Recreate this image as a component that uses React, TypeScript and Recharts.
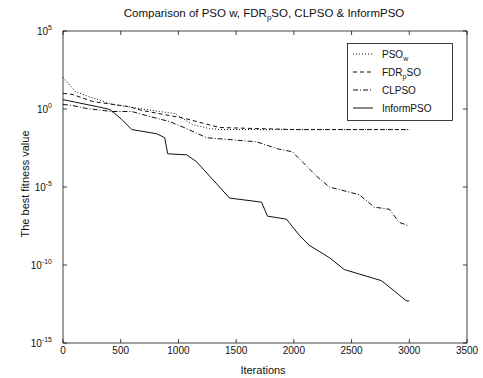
import { LineChart, Line, XAxis, YAxis, ReferenceLine } from "recharts";

// Iterations / best fitness
const psoIter = [0, 60, 104, 216, 432, 838, 968, 1123, 1270, 1383, 3000];
const psoVal = [107, 33, 13.5, 6.5, 1.95, 0.69, 0.51, 0.1, 0.055, 0.048, 0.048];

const fdrIter = [0, 78, 259, 562, 691, 1054, 1357, 1702, 2022, 3000];
const fdrVal = [10, 8.7, 3.0, 1.45, 0.79, 0.25, 0.065, 0.055, 0.048, 0.048];

const clIter = [0, 78, 207, 423, 596, 752, 925, 1072, 1244, 1340, 1677, 1858, 1988, 2195, 2307, 2567, 2696, 2826, 2912, 2981, 3000];
const clVal = [1.95, 1.7, 1.07, 0.69, 0.69, 0.33, 0.155, 0.055, 0.0145, 0.0126, 0.0079, 0.0028, 0.0018, 5.1e-5, 1e-5, 3.2e-6, 5.1e-7, 3.8e-7, 5.5e-8, 3.5e-8, 3.5e-8];

const informIter = [0, 100, 300, 406, 449, 510, 596, 812, 881, 907, 1072, 1158, 1443, 1720, 1772, 1936, 2048, 2135, 2307, 2437, 2757, 2869, 2973, 3000];
const informVal = [4.0, 2.8, 1.4, 0.93, 0.51, 0.21, 0.048, 0.026, 0.0145, 1.35e-3, 1.15e-3, 4.1e-4, 1.95e-6, 1.07e-6, 1.35e-7, 8.7e-8, 7.9e-9, 1.8e-9, 3.0e-10, 5.1e-11, 1e-11, 2.2e-12, 5.1e-13, 5e-13];

const xTicks = [0, 500, 1000, 1500, 2000, 2500, 3000, 3500];
const yTicks = [1e5, 1e0, 1e-5, 1e-10, 1e-15];
const yExps = ["5", "0", "-5", "-10", "-15"];

const toRows = (it: number[], v: number[]) => it.map((x, i) => ({ it: x, v: v[i] }));

const SERIES = [
  { key: "pso", label: "PSO", sub: "w", rest: "", dash: "1 2", rows: toRows(psoIter, psoVal) },
  { key: "fdr", label: "FDR", sub: "p", rest: "SO", dash: "4 3", rows: toRows(fdrIter, fdrVal) },
  { key: "cl", label: "CLPSO", sub: "", rest: "", dash: "5 2 1 2", rows: toRows(clIter, clVal) },
  { key: "inform", label: "InformPSO", sub: "", rest: "", dash: undefined, rows: toRows(informIter, informVal) },
];

const FONT = "'Liberation Sans', Arial, sans-serif";
const INK = "#111";

function XTick(props: any) {
  const { x, y, payload } = props;
  return (
    <g>
      <line x1={x} x2={x} y1={343} y2={339} stroke={INK} strokeWidth={0.8} />
      <line x1={x} x2={x} y1={31} y2={35} stroke={INK} strokeWidth={0.8} />
      <text x={x} y={y + 7} textAnchor="middle" fontSize={10} fontFamily={FONT} fill={INK}>
        {payload.value}
      </text>
    </g>
  );
}

function YTick(props: any) {
  const { x, y, index } = props;
  const exp = yExps[index] ?? "";
  return (
    <g>
      <line x1={63} x2={67} y1={y} y2={y} stroke={INK} strokeWidth={0.8} />
      <line x1={467} x2={463} y1={y} y2={y} stroke={INK} strokeWidth={0.8} />
      <text x={x - 9} y={y + 4} textAnchor="end" fontSize={10} fontFamily={FONT} fill={INK}>
        10
        <tspan dy={-5} fontSize={7} fill={INK}>{exp}</tspan>
      </text>
    </g>
  );
}

function LegendBox({ x, y }: { x: number; y: number }) {
  return (
    <g transform={`translate(${x} ${y})`}>
      <rect x={0.5} y={0.5} width={105} height={77} fill="#fff" stroke={INK} strokeWidth={0.8} />
      {SERIES.map((s, i) => {
        const yy = 11 + i * 18;
        return (
          <g key={s.key}>
            <line x1={6} x2={26} y1={yy} y2={yy} stroke={INK} strokeWidth={1} strokeDasharray={s.dash} />
            <text x={35} y={yy + 3.5} fontSize={10} fontFamily={FONT} fill={INK}>
              {s.label}
              {s.sub && <tspan dy={3} fontSize={7} fill={INK}>{s.sub}</tspan>}
              {s.rest && <tspan dy={-3} fill={INK}>{s.rest}</tspan>}
            </text>
          </g>
        );
      })}
    </g>
  );
}

export default function App() {
  return (
    <div style={{ position: "absolute", left: 0, top: 0, width: 483, height: 378, background: "#fff" }}>
      <LineChart width={483} height={378} margin={{ top: 31, right: 16, bottom: 5, left: 3 }}>
        <XAxis
          type="number"
          dataKey="it"
          domain={[0, 3500]}
          ticks={xTicks}
          allowDuplicatedCategory={false}
          tick={<XTick />}
          tickLine={false}
          tickSize={0}
          tickMargin={4}
          height={30}
          axisLine={{ stroke: INK, strokeWidth: 0.8 }}
        />
        <YAxis
          type="number"
          scale="log"
          domain={[1e-15, 1e5]}
          ticks={yTicks}
          allowDataOverflow
          tick={<YTick />}
          tickLine={false}
          tickSize={0}
          width={60}
          axisLine={{ stroke: INK, strokeWidth: 0.8 }}
        />
        <ReferenceLine y={1e5} stroke={INK} strokeWidth={0.8} />
        <ReferenceLine x={3500} stroke={INK} strokeWidth={0.8} />
        {SERIES.map((s) => (
          <Line
            key={s.key}
            data={s.rows}
            dataKey="v"
            name={s.key}
            type="linear"
            stroke={INK}
            strokeWidth={1}
            strokeDasharray={s.dash}
            dot={false}
            isAnimationActive={false}
          />
        ))}
        <LegendBox x={347} y={43} />
        <text x={264} y={17} textAnchor="middle" fontSize={11.5} fontFamily={FONT} fill={INK}>
          Comparison of PSO w, FDR
          <tspan dy={3} fontSize={8} fill={INK}>p</tspan>
          <tspan dy={-3} fill={INK}>SO, CLPSO &amp; InformPSO</tspan>
        </text>
        <text x={263} y={374} textAnchor="middle" fontSize={11} fontFamily={FONT} fill={INK}>
          Iterations
        </text>
        <text
          x={29}
          y={184}
          textAnchor="middle"
          fontSize={11}
          fontFamily={FONT}
          fill={INK}
          transform="rotate(-90 29 184)"
        >
          The best fitness value
        </text>
      </LineChart>
    </div>
  );
}
